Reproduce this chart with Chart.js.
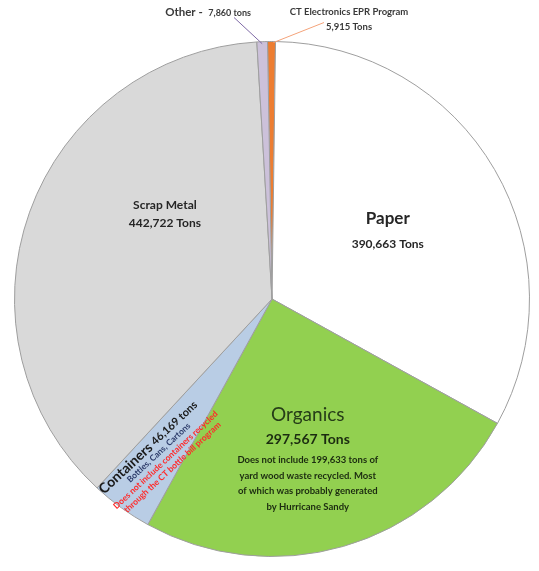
<!DOCTYPE html>
<html>
<head>
<meta charset="utf-8">
<script src="https://cdn.jsdelivr.net/npm/chart.js@4.4.1/dist/chart.umd.min.js"></script>
<style>
  html, body { margin: 0; padding: 0; background: #ffffff; }
  #wrap { width: 539px; height: 571px; }
</style>
</head>
<body>
<div id="wrap"><canvas id="wastePie" width="539" height="571"></canvas></div>
<script>
// recycled tonnage by material, clockwise from 12 o'clock
const categories = ['CT Electronics EPR Program', 'Paper', 'Organics', 'Containers', 'Scrap Metal', 'Other'];
const tons = [5915, 390663, 297567, 46169, 442722, 7860];
const sliceColors = ['#ed7d31', '#ffffff', '#92d050', '#b9cde5', '#d9d9d9', '#ccc1da'];
const tonLabels = ['5,915 Tons', '390,663 Tons', '297,567 Tons', '46,169 tons', '442,722 Tons', '7,860 tons'];

const FONT = 'Lato, "Open Sans", sans-serif';

function font(size, weight) {
    return (weight || 'bold') + ' ' + size + 'px ' + FONT;
}

const sliceLabels = {
    id: 'sliceLabels',
    afterDatasetsDraw(chart) {
        const ctx = chart.ctx;
        const arcs = chart.getDatasetMeta(0).data;
        const cx = arcs[0].x, cy = arcs[0].y, R = arcs[0].outerRadius;

        // point inside a slice: mid angle (+ tweak, degrees), fraction of radius
        function at(i, dAng, frac) {
            const a = arcs[i];
            const m = (a.startAngle + a.endAngle) / 2 + dAng * Math.PI / 180;
            return [cx + Math.cos(m) * R * frac, cy + Math.sin(m) * R * frac];
        }

        ctx.save();
        ctx.textAlign = 'center';
        ctx.textBaseline = 'middle';

        // Paper
        let p = at(1, 0, 0.52);
        ctx.fillStyle = '#262626';
        ctx.font = font(17);
        ctx.fillText(categories[1], p[0], p[1] - 13);
        ctx.font = font(12);
        ctx.fillText(tonLabels[1], p[0], p[1] + 12);

        // Scrap Metal
        p = at(4, 18.6, 0.53);
        ctx.font = font(12);
        ctx.fillText(categories[4], p[0], p[1] - 9);
        ctx.fillText(tonLabels[4], p[0], p[1] + 9);

        // Organics
        p = at(2, 3.4, 0.63);
        ctx.fillStyle = '#263d18';
        ctx.font = font(19, 'normal');
        ctx.fillText(categories[2], p[0], p[1] - 42);
        ctx.fillStyle = '#1b2b10';
        ctx.font = font(14);
        ctx.fillText(tonLabels[2], p[0], p[1] - 18);
        ctx.font = font(9.5);
        const orgNote = ['Does not include 199,633 tons of', 'yard wood waste recycled. Most',
                         'of which was probably generated', 'by Hurricane Sandy'];
        orgNote.forEach((t, k) => ctx.fillText(t, p[0], p[1] + 3 + k * 15.5));

        // Containers (rotated)
        p = at(3, 4, 0.75);
        ctx.save();
        ctx.translate(p[0], p[1]);
        ctx.rotate(-43 * Math.PI / 180);
        ctx.textAlign = 'left';
        ctx.fillStyle = '#1a1a1a';
        ctx.font = font(14);
        const w1 = ctx.measureText('Containers ').width;
        ctx.font = font(11);
        const w2 = ctx.measureText(tonLabels[3]).width;
        let x0 = -(w1 + w2) / 2;
        ctx.font = font(14);
        ctx.fillText('Containers ', x0, 0);
        ctx.font = font(11);
        ctx.fillText(tonLabels[3], x0 + w1, 0);
        ctx.textAlign = 'center';
        ctx.fillStyle = '#2e3d6b';
        ctx.font = font(8.5);
        ctx.fillText('Bottles, Cans, Cartons', 4, 11);
        ctx.fillStyle = '#ff2a2a';
        ctx.fillText('Does not include containers recycled', 4, 21);
        ctx.fillText('through the CT bottle bill program', 4, 31);
        ctx.restore();

        // outside labels with leader lines
        const top = [cx, cy - R];
        // Other
        let e = at(5, 0, 1);
        ctx.strokeStyle = '#7f6aa6';
        ctx.lineWidth = 1;
        ctx.beginPath();
        ctx.moveTo(cx - 38, top[1] - 24);
        ctx.lineTo(e[0], e[1] + 2);
        ctx.stroke();
        ctx.fillStyle = '#3a3a3a';
        ctx.textAlign = 'left';
        ctx.font = font(11.5);
        const wo = ctx.measureText('Other -  ').width;
        ctx.font = font(9);
        const wv = ctx.measureText(tonLabels[5]).width;
        const ox = cx - 21 - wo - wv;
        ctx.font = font(11.5);
        ctx.fillText('Other -  ', ox, top[1] - 29);
        ctx.font = font(9);
        ctx.fillText(tonLabels[5], ox + wo, top[1] - 28);

        // Electronics
        e = at(0, 0, 1);
        ctx.strokeStyle = '#f4a37a';
        ctx.beginPath();
        ctx.moveTo(cx + 52, top[1] - 19);
        ctx.lineTo(e[0] + 2, e[1] + 1);
        ctx.stroke();
        ctx.textAlign = 'center';
        ctx.fillStyle = '#3a3a3a';
        ctx.font = font(9.5);
        ctx.fillText(categories[0], cx + 77, top[1] - 30);
        ctx.fillText(tonLabels[0], cx + 77, top[1] - 15);

        ctx.restore();
    }
};

new Chart(document.getElementById('wastePie').getContext('2d'), {
    type: 'pie',
    data: {
        labels: categories,
        datasets: [{
            data: tons,
            backgroundColor: sliceColors,
            borderColor: '#9e9e9e',
            borderWidth: 1
        }]
    },
    options: {
        responsive: false,
        animation: false,
        rotation: -1,
        layout: { padding: { left: 14, right: 9, top: 41, bottom: 14 } },
        plugins: {
            legend: { display: false },
            tooltip: { enabled: false }
        }
    },
    plugins: [sliceLabels]
});
</script>
</body>
</html>
